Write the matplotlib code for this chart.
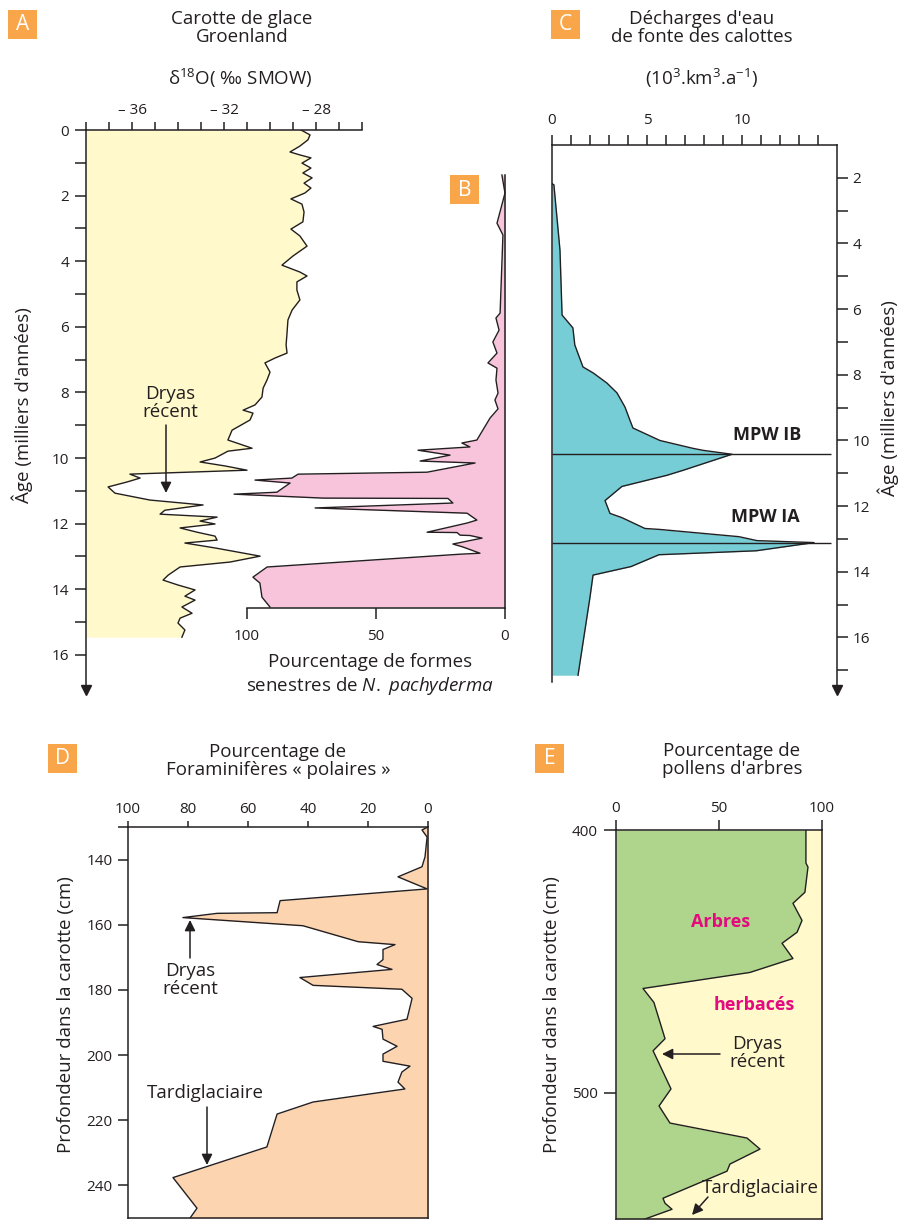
import matplotlib
matplotlib.use('Agg')
import matplotlib.pyplot as plt
from matplotlib.patches import Rectangle

plt.rcParams['font.family'] = ['Open Sans', 'DejaVu Sans']
plt.rcParams['mathtext.fontset'] = 'custom'
plt.rcParams['mathtext.rm'] = 'Open Sans'
plt.rcParams['mathtext.it'] = 'Open Sans:italic'
plt.rcParams['mathtext.bf'] = 'Open Sans:bold'

# A - delta18O, Greenland ice core (age in kyr, permil)
A_age = [0.00, 0.15, 0.30, 0.49, 0.67, 0.76, 0.85, 1.01, 1.16, 1.31, 1.46, 1.62, 1.77, 1.92,
         2.10, 2.26, 2.50, 2.80, 3.02, 3.23, 3.54, 3.84, 4.12, 4.33, 4.45, 4.63, 4.88, 5.18,
         5.49, 5.79, 6.19, 6.55, 6.80, 6.95, 7.10, 7.38, 7.62, 7.87, 8.14, 8.38, 8.54, 8.63,
         8.84, 9.15, 9.45, 9.70, 9.79, 10.00, 10.12, 10.24, 10.37, 10.49, 10.61, 10.73, 10.88,
         11.07, 11.28, 11.43, 11.59, 11.71, 11.80, 11.92, 12.01, 12.13, 12.26, 12.38, 12.50,
         12.59, 12.74, 12.99, 13.17, 13.32, 13.57, 13.72, 13.87, 14.02, 14.21, 14.33, 14.54,
         14.73, 14.88, 15.03, 15.24, 15.46]
A_d18 = [-28.65, -28.26, -28.35, -28.70, -29.13, -28.70, -28.22, -28.61, -28.22, -28.57, -28.17,
         -28.52, -28.22, -28.48, -29.09, -28.61, -28.52, -28.57, -29.09, -28.70, -28.39, -29.00,
         -29.48, -28.70, -28.39, -28.83, -28.83, -28.70, -29.04, -29.22, -29.26, -29.30, -29.26,
         -29.78, -30.22, -30.00, -30.13, -30.30, -30.35, -30.65, -31.17, -30.74, -30.87, -31.65,
         -31.83, -30.78, -31.83, -32.39, -33.04, -31.96, -31.00, -36.09, -35.65, -36.22, -37.04,
         -36.74, -35.22, -32.91, -34.57, -34.78, -32.30, -33.04, -32.39, -33.91, -33.17, -32.39,
         -32.30, -33.70, -32.39, -30.43, -31.74, -33.91, -34.43, -34.65, -34.00, -33.26, -33.70,
         -33.26, -33.83, -33.39, -33.91, -34.00, -33.70, -33.83]

# B - % left-coiling N. pachyderma (age, %)
B_data = [(1.37, 1.2), (1.92, 0), (2.84, 3.1), (3.20, 0.8), (5.58, 1.9), (5.73, 3.5), (6.10, 2.3),
          (6.46, 4.7), (6.80, 3.1), (7.10, 6.6), (7.26, 3.1), (7.62, 3.5), (8.02, 2.7), (8.23, 3.9),
          (8.50, 2.7), (8.78, 5.8), (9.45, 10.9), (9.54, 16.7), (9.66, 13.6), (9.76, 33.7),
          (9.91, 21.3), (10.09, 32.9), (10.15, 11.6), (10.43, 30.2), (10.49, 80.2), (10.61, 82.6),
          (10.67, 96.9), (10.76, 83.3), (11.04, 88.4), (11.10, 105), (11.22, 70.5), (11.23, 22.1),
          (11.37, 20.2), (11.52, 73.6), (11.68, 14.7), (11.89, 10.9), (11.98, 14.7), (12.26, 30.2),
          (12.27, 18.6), (12.35, 17.4), (12.36, 13.6), (12.44, 8.9), (12.62, 20.2), (12.71, 16.3),
          (12.90, 9.7), (12.93, 17.4), (13.32, 92.2), (13.63, 97.7), (13.81, 95.0), (14.24, 94.2),
          (14.54, 91.1)]

# C - meltwater discharge (age, 10^3 km3/a)
C_data = [(2.18, 0), (2.21, 0.1), (4.20, 0.42), (6.18, 0.53), (6.57, 1.1), (7.09, 1.2), (7.76, 1.63),
          (7.94, 2.16), (8.25, 2.89), (8.55, 3.42), (8.98, 3.84), (9.38, 4.1), (9.62, 4.26),
          (10.0, 5.68), (10.24, 7.42), (10.30, 7.95), (10.42, 9.47), (10.91, 6.89), (11.06, 6.05),
          (11.40, 3.68), (11.83, 2.79), (12.22, 3.05), (12.35, 3.68), (12.68, 4.89), (12.71, 5.68),
          (12.93, 9.84), (13.05, 10.79), (13.11, 13.79), (13.36, 10.74), (13.48, 5.63),
          (13.84, 4.16), (14.10, 2.16), (14.77, 2.0), (17.15, 1.37)]
MPW_ages = [10.42, 13.11]
MPW_names = ['MPW IB', 'MPW IA']

# D - % polar foraminifera (depth cm, %)
D_data = [(130.0, 0), (130.9, 2), (133.1, 0.3), (139.2, 1), (142.2, 2), (145.3, 10), (149.0, 0.3),
          (152.6, 49.3), (156.3, 50.3), (156.5, 70.3), (157.8, 81.7), (160.3, 41.7), (165.2, 23.3),
          (166.1, 11), (167.6, 15), (170.7, 15), (172.2, 17), (173.7, 12), (176.2, 42.7),
          (178.6, 38.3), (179.8, 8.7), (182.6, 5.3), (189.0, 7), (191.2, 18.3), (192.1, 15.3),
          (195.1, 15), (197.3, 10.3), (199.7, 15), (201.9, 15), (203.4, 6), (205.2, 8.7),
          (208.3, 10), (210.4, 7.7), (214.4, 38.3), (218.1, 50.3), (228.2, 53.7), (237.6, 85),
          (247.0, 77), (250.0, 79.3)]

# E - % tree pollen (depth cm, %)
E_data = [(400, 92.2), (412.6, 92.2), (414.1, 93.2), (423.7, 91.7), (427.9, 85.9), (434.4, 90.3),
          (438.9, 87.9), (443.1, 80.6), (448.9, 85.9), (454.2, 65), (460.3, 13.1), (465.6, 18.4),
          (479.4, 23.8), (484.0, 18.0), (498.5, 26.7), (505.0, 20.9), (511.5, 26.2), (517.2, 63.6),
          (521.4, 69.9), (527.1, 55.3), (529.8, 53.9), (540.1, 22.8), (542.0, 23.8), (544.3, 27.2),
          (548.0, 14.1)]

INK = '#231F20'
YELLOW = '#FFF9CC'
PINK = '#F8C4DB'
TEAL = '#77CDD5'
SALMON = '#FDD4B0'
GREEN = '#AED58B'
ORANGE = '#F9A64A'
MAGENTA = '#E5097F'

W, H = 900, 1222
fig = plt.figure(figsize=(9, 12.22), dpi=100)


def box(x0, y0, x1, y1):
    return [x0 / W, 1 - y1 / H, (x1 - x0) / W, (y1 - y0) / H]


def style(ax, shown):
    ax.set_facecolor('none')
    for s in ['top', 'bottom', 'left', 'right']:
        ax.spines[s].set_visible(s in shown)
        ax.spines[s].set_color(INK)
        ax.spines[s].set_linewidth(1.1)
    ax.tick_params(colors=INK, width=1.1, direction='out', labelsize=11)


# ---- A
axA = fig.add_axes(box(86, 130, 362, 690))
style(axA, ['top', 'left'])
axA.set_xlim(-38, -26)
axA.set_ylim(17.07, 0)
axA.fill_betweenx(A_age, -38, A_d18, color=YELLOW, lw=0)
axA.plot(A_d18, A_age, color=INK, lw=1)
axA.xaxis.tick_top()
axA.set_xticks(range(-38, -25))
axA.set_xticklabels(['– %d' % -v if v in (-36, -32, -28) else '' for v in range(-38, -25)])
axA.tick_params(axis='x', length=6, pad=3)
axA.set_yticks(range(0, 17))
axA.set_yticklabels([str(v) if v % 2 == 0 else '' for v in range(0, 17)])
axA.tick_params(axis='y', length=8, pad=4)
axA.plot(0, 0, marker='v', ms=7, color=INK, transform=axA.transAxes, clip_on=False)

# ---- B
B_age = [a for a, p in B_data]
B_pct = [p for a, p in B_data]
axB = fig.add_axes(box(247, 175, 505, 608))
style(axB, ['right', 'bottom'])
axB.set_xlim(100, 0)
axB.set_ylim(14.57, 1.37)
axB.fill_betweenx(B_age, 0, B_pct, color=PINK, lw=0, clip_on=False)
axB.plot(B_pct, B_age, color=INK, lw=1, clip_on=False)
axB.set_xticks([100, 50, 0])
axB.set_yticks([])
axB.tick_params(axis='x', length=8, pad=7)

# ---- C
C_age = [a for a, v in C_data]
C_val = [v for a, v in C_data]
axC = fig.add_axes(box(552, 145, 837, 690))
style(axC, ['top', 'left', 'right'])
axC.set_xlim(0, 15)
axC.set_ylim(17.6, 1.0)
axC.spines['left'].set_bounds(1.0, 17.37)
axC.fill_betweenx(C_age, 0, C_val, color=TEAL, lw=0)
axC.plot(C_val, C_age, color=INK, lw=1)
axC.hlines(MPW_ages, 0, 14.7, color=INK, lw=1)
axC.xaxis.tick_top()
axC.set_xticks(range(0, 15))
axC.set_xticklabels([str(v) if v % 5 == 0 else '' for v in range(0, 15)])
axC.tick_params(axis='x', length=7, pad=5)
axC.yaxis.tick_right()
axC.set_yticks(range(2, 18))
axC.set_yticklabels([str(v) if v % 2 == 0 and v < 17 else '' for v in range(2, 18)])
axC.tick_params(axis='y', length=8, pad=3)
axC.plot(1, 0, marker='v', ms=7, color=INK, transform=axC.transAxes, clip_on=False)

# ---- D
D_depth = [d for d, p in D_data]
D_pct = [p for d, p in D_data]
axD = fig.add_axes(box(128, 827, 428, 1218))
style(axD, ['top', 'left', 'right', 'bottom'])
axD.set_xlim(100, 0)
axD.set_ylim(250, 130)
axD.fill_betweenx(D_depth, 0, D_pct, color=SALMON, lw=0)
axD.plot(D_pct, D_depth, color=INK, lw=1)
axD.xaxis.tick_top()
axD.set_xticks(range(100, -1, -20))
axD.tick_params(axis='x', length=4, pad=3)
axD.set_yticks([130] + list(range(140, 241, 20)))
axD.set_yticklabels([''] + [str(v) for v in range(140, 241, 20)])
axD.tick_params(axis='y', length=7, pad=4)

# ---- E
E_depth = [d for d, p in E_data]
E_pct = [p for d, p in E_data]
axE = fig.add_axes(box(616, 830, 822, 1219))
style(axE, ['top', 'left', 'right', 'bottom'])
axE.set_xlim(0, 100)
axE.set_ylim(548, 400)
axE.fill_betweenx(E_depth, 0, E_pct, color=GREEN, lw=0)
axE.fill_betweenx(E_depth, E_pct, 100, color=YELLOW, lw=0)
axE.plot(E_pct, E_depth, color=INK, lw=1)
axE.xaxis.tick_top()
axE.set_xticks([0, 50, 100])
axE.tick_params(axis='x', length=7, pad=3)
axE.set_yticks([400, 500])
axE.tick_params(axis='y', length=9, pad=4)

# ---- overlay for titles, letters and notes (pixel coordinates)
ov = fig.add_axes([0, 0, 1, 1], zorder=10)
ov.set_xlim(0, W)
ov.set_ylim(H, 0)
ov.axis('off')

for letter, (lx, ly) in zip('ABCDE', [(8, 10), (450, 175), (551, 10), (48, 744), (535, 744)]):
    ov.add_patch(Rectangle((lx, ly), 29, 29, color=ORANGE, lw=0))
    ov.text(lx + 14.5, ly + 15, letter, color='white', size=15, ha='center', va='center')

tkw = dict(ha='center', va='center', color=INK, size=13.5, linespacing=1.0)
ov.text(242, 28, 'Carotte de glace\nGroenland', **tkw)
ov.text(240, 78, r'δ$^{18}$O( ‰ SMOW)', **tkw)
ov.text(702, 28, "Décharges d'eau\nde fonte des calottes", **tkw)
ov.text(702, 78, r'(10$^{3}$.km$^{3}$.a$^{-1}$)', **tkw)
ov.text(370, 662, 'Pourcentage de formes', **tkw)
ov.text(370, 686, r'senestres de $\mathit{N.}$ $\mathit{pachyderma}$', **tkw)
ov.text(278, 761, 'Pourcentage de\nForaminifères « polaires »', **tkw)
ov.text(732, 760, "Pourcentage de\npollens d'arbres", **tkw)

ov.text(22, 405, "Âge (milliers d'années)", rotation=90, **tkw)
ov.text(888, 398, "Âge (milliers d'années)", rotation=90, **tkw)
ov.text(66, 1015, 'Profondeur dans la carotte (cm)', rotation=90, **tkw)
ov.text(552, 1015, 'Profondeur dans la carotte (cm)', rotation=90, **tkw)

for name, (mx, my) in zip(MPW_names, [(767, 435), (765, 517)]):
    ov.text(mx, my, name, ha='center', va='center', color=INK, size=13, weight='bold')

ov.text(721, 922, 'Arbres', ha='center', va='center', color=MAGENTA, size=13, weight='bold')
ov.text(754, 1005, 'herbacés', ha='center', va='center', color=MAGENTA, size=13, weight='bold')

ov.text(170, 403, 'Dryas\nrécent', **tkw)
ov.text(190, 980, 'Dryas\nrécent', **tkw)
ov.text(205, 1093, 'Tardiglaciaire', **tkw)
ov.text(757, 1053, 'Dryas\nrécent', **tkw)
ov.text(760, 1188, 'Tardiglaciaire', **tkw)

akw = dict(arrowstyle='-|>', color=INK, lw=1.1, mutation_scale=16, shrinkA=0, shrinkB=0)
for (x0, y0), (x1, y1) in [((166, 425), (166, 493)), ((190, 958), (190, 920)),
                           ((207, 1107), (207, 1165)), ((720, 1054), (662, 1054)),
                           ((708, 1197), (692, 1215))]:
    ov.annotate('', xy=(x1, y1), xytext=(x0, y0), arrowprops=akw)

fig.savefig('out.png', dpi=100)
